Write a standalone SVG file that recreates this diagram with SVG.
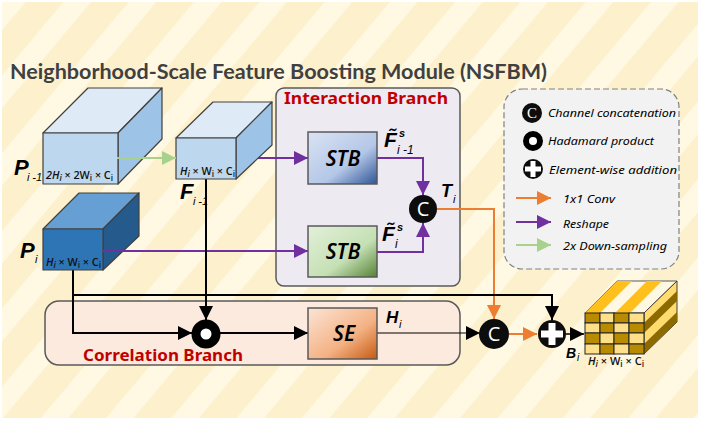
<svg xmlns="http://www.w3.org/2000/svg" width="702" height="423" viewBox="0 0 702 423">
<style>
.t{font-family:"Lato","Noto Sans",sans-serif}
.c{font-family:"Noto Sans","DejaVu Sans",sans-serif;font-style:italic;fill:#000}
.red{font-family:"Noto Sans","DejaVu Sans",sans-serif;font-weight:700;fill:#c00000;font-size:16px}
.m{font-family:"Liberation Sans",sans-serif;font-style:italic;font-weight:700;fill:#000}
.n{font-family:"Liberation Sans",sans-serif;font-style:italic;fill:#000}
.d{font-family:"Open Sans",sans-serif;font-size:10.5px;font-weight:600;fill:#111}
.e{stroke:#404040;stroke-width:1.2;stroke-linejoin:round}
.k{fill:none;stroke:#000;stroke-width:2}
.p{fill:none;stroke:#7030a0;stroke-width:2}
.o{fill:none;stroke:#ed7d31;stroke-width:2}
.g{fill:none;stroke:#a9d18e;stroke-width:2}
.box{stroke:#595959;stroke-width:1.5}
.sb{font-family:"Noto Sans",sans-serif;font-style:italic;font-weight:600;font-size:21px;fill:#000}
</style>
<defs>
<pattern id="st" width="50" height="423" patternUnits="userSpaceOnUse" patternTransform="rotate(40)">
<rect width="50" height="423" fill="#fdf0cd"/><rect width="21" height="423" fill="#fff8e3"/>
</pattern>
<linearGradient id="g1" x1="0" y1="0" x2="1" y2="1"><stop offset="0" stop-color="#dae3f3"/><stop offset=".6" stop-color="#b4c7e7"/><stop offset="1" stop-color="#2f5597"/></linearGradient>
<linearGradient id="g2" x1="0" y1="0" x2="1" y2="1"><stop offset="0" stop-color="#e2f0d9"/><stop offset=".6" stop-color="#c5e0b4"/><stop offset="1" stop-color="#548235"/></linearGradient>
<linearGradient id="g3" x1="0" y1="0" x2="1" y2="1"><stop offset="0" stop-color="#fbe5d6"/><stop offset=".6" stop-color="#f4b183"/><stop offset="1" stop-color="#c55a11"/></linearGradient>
<marker id="ak" markerUnits="userSpaceOnUse" markerWidth="14" markerHeight="14" refX="14" refY="7" orient="auto"><path d="M0 0L14 7L0 14Z" fill="#000"/></marker>
<marker id="ap" markerUnits="userSpaceOnUse" markerWidth="14" markerHeight="14" refX="14" refY="7" orient="auto"><path d="M0 0L14 7L0 14Z" fill="#7030a0"/></marker>
<marker id="ao" markerUnits="userSpaceOnUse" markerWidth="14" markerHeight="14" refX="14" refY="7" orient="auto"><path d="M0 0L14 7L0 14Z" fill="#ed7d31"/></marker>
<marker id="ag" markerUnits="userSpaceOnUse" markerWidth="14" markerHeight="14" refX="14" refY="7" orient="auto"><path d="M0 0L14 7L0 14Z" fill="#a9d18e"/></marker>
</defs>
<rect width="702" height="423" fill="#fff"/>
<rect x="2" y="2" width="696" height="416" fill="url(#st)"/>
<text x="10" y="79" class="t" font-size="21" font-weight="700" fill="#404040" textLength="537" lengthAdjust="spacingAndGlyphs">Neighborhood-Scale Feature Boosting Module (NSFBM)</text>

<g id="interaction-panel"><rect x="276" y="88" width="184" height="198" rx="8" fill="#eeeaf2" stroke="#595959" stroke-width="1.5"/>
<text x="284" y="104" class="red" textLength="164" lengthAdjust="spacingAndGlyphs">Interaction Branch</text></g>
<g id="correlation-panel"><rect x="45" y="301" width="415" height="64" rx="14" fill="#fbeadd" stroke="#595959" stroke-width="1.5"/>
<text x="83" y="361" class="red" textLength="160" lengthAdjust="spacingAndGlyphs">Correlation Branch</text></g>

<g id="connectors">
<path class="p" d="M236 158H308" marker-end="url(#ap)"/>
<path class="p" d="M103 251H308" marker-end="url(#ap)"/>
<path class="p" d="M377 158H423V195" marker-end="url(#ap)"/>
<path class="p" d="M377 252H423V223" marker-end="url(#ap)"/>
<path class="o" d="M437 209H494V319" marker-end="url(#ao)"/>
<path class="k" d="M206 179V320" marker-end="url(#ak)"/>
<path class="k" d="M73 270V333H192" marker-end="url(#ak)"/>
<path class="k" d="M73 295H552V320" marker-end="url(#ak)"/>
<path class="k" d="M220 333H308" marker-end="url(#ak)"/>
<path d="M377 333H480" fill="none" stroke="#000" stroke-width="1" marker-end="url(#ak)"/>
<path class="o" d="M509 334H537" marker-end="url(#ao)"/>
<path d="M566 334H584" fill="none" stroke="#000" stroke-width="1.5" marker-end="url(#ak)"/>
</g>

<g id="cube-p-prev">
<path class="e" d="M43 133L88 88H162L118 133Z" fill="#deebf7"/>
<path class="e" d="M118 133L162 88V139L118 184Z" fill="#9dc3e6"/>
<rect class="e" x="43" y="133" width="75" height="51" fill="#bdd7ee"/>
<text x="46" y="179" class="d" textLength="67" lengthAdjust="spacingAndGlyphs"><tspan font-style="italic">2H<tspan font-size="8" dy="2">i</tspan></tspan><tspan dy="-2"> × 2W</tspan><tspan font-size="8" dy="2">i</tspan><tspan dy="-2"> × C</tspan><tspan font-size="8" dy="2">i</tspan></text>
</g>
<g id="cube-f-prev">
<path class="e" d="M176 138L213 102H272L236 138Z" fill="#deebf7"/>
<path class="e" d="M236 138L272 102V145L236 179Z" fill="#9dc3e6"/>
<rect class="e" x="176" y="138" width="60" height="41" fill="#bdd7ee"/>
<text x="180" y="175" class="d" textLength="55" lengthAdjust="spacingAndGlyphs"><tspan font-style="italic">H<tspan font-size="8" dy="2">i</tspan></tspan><tspan dy="-2"> × W</tspan><tspan font-size="8" dy="2">i</tspan><tspan dy="-2"> × C</tspan><tspan font-size="8" dy="2">i</tspan></text>
</g>
<g id="cube-p">
<path class="e" d="M43 229L79 193H139L103 229Z" fill="#659fd3"/>
<path class="e" d="M103 229L139 193V236L103 270Z" fill="#245a8c"/>
<rect class="e" x="43" y="229" width="60" height="41" fill="#2e75b6"/>
<text x="46" y="266" class="d" textLength="55" lengthAdjust="spacingAndGlyphs"><tspan font-style="italic">H<tspan font-size="8" dy="2">i</tspan></tspan><tspan dy="-2"> × W</tspan><tspan font-size="8" dy="2">i</tspan><tspan dy="-2"> × C</tspan><tspan font-size="8" dy="2">i</tspan></text>
</g>
<path class="g" d="M117 158H176" marker-end="url(#ag)"/>
<path class="p" d="M103 251H135"/>

<text x="14" y="175" class="m" font-size="22">P</text><text x="27" y="181" class="n" font-size="11" textLength="15">i -1</text>
<text x="180" y="199" class="m" font-size="22">F</text><text x="193" y="205" class="n" font-size="11" textLength="15">i -1</text>
<text x="20" y="258" class="m" font-size="22">P</text><text x="35" y="263" class="n" font-size="11">i</text>

<g id="stb-1"><rect class="box" x="308" y="132" width="69" height="52" fill="url(#g1)"/><text x="343" y="166" class="sb" text-anchor="middle">STB</text></g>
<g id="stb-2"><rect class="box" x="308" y="226" width="69" height="51" fill="url(#g2)"/><text x="343" y="259" class="sb" text-anchor="middle">STB</text></g>
<g id="se"><rect class="box" x="308" y="308" width="69" height="51" fill="url(#g3)"/><text x="344" y="341" class="sb" text-anchor="middle">SE</text></g>

<text x="384" y="147" class="m" font-size="21">F̃</text><text x="399" y="137" class="m" font-size="11">s</text><text x="397" y="154" class="n" font-size="12">i -1</text>
<text x="382" y="241" class="m" font-size="21">F̃</text><text x="397" y="231" class="m" font-size="11">s</text><text x="395" y="248" class="n" font-size="12">i</text>
<text x="441" y="197" class="m" font-size="18">T</text><text x="453" y="203" class="n" font-size="11">i</text>
<text x="386" y="323" class="m" font-size="17">H</text><text x="399" y="328" class="n" font-size="11">i</text>
<text x="566" y="358" class="m" font-size="14">B</text><text x="577" y="361" class="n" font-size="10">i</text>

<g id="concat-1"><circle cx="423" cy="209" r="14" fill="#0d0d0d"/><text x="423" y="216" font-family="Open Sans,sans-serif" font-size="20" fill="#fff" text-anchor="middle">C</text></g>
<g id="concat-2"><circle cx="494" cy="334" r="15" fill="#0d0d0d"/><text x="494" y="341" font-family="Open Sans,sans-serif" font-size="20" fill="#fff" text-anchor="middle">C</text></g>
<g id="hadamard"><circle cx="206" cy="334" r="10" fill="#fff" stroke="#000" stroke-width="9"/></g>
<g id="add"><circle cx="552" cy="334" r="14" fill="#0d0d0d"/><path d="M552 323V345M541 334H563" stroke="#fff" stroke-width="7"/></g>

<g id="cube-b">
<path d="M585 313L617 281H677L644 313Z" fill="#fff8e3" stroke="#595959"/>
<path d="M585 313L617 281H632L600 313ZM615 313L647 281H662L630 313Z" fill="#ffc01d"/>
<path d="M644 313L677 281V322L644 354Z" fill="#ffdc70" stroke="#404040"/>
<path d="M644 323L677 291V301L644 333ZM644 344L677 312V322L644 354Z" fill="#8c6a00"/>
<g stroke="#222" stroke-width="1">
<rect x="585" y="313" width="15" height="10" fill="#b98b00"/><rect x="600" y="313" width="14" height="10" fill="#ffe08a"/><rect x="614" y="313" width="15" height="10" fill="#b98b00"/><rect x="629" y="313" width="15" height="10" fill="#ffe08a"/>
<rect x="585" y="323" width="15" height="10" fill="#ffe08a"/><rect x="600" y="323" width="14" height="10" fill="#b98b00"/><rect x="614" y="323" width="15" height="10" fill="#ffe08a"/><rect x="629" y="323" width="15" height="10" fill="#b98b00"/>
<rect x="585" y="333" width="15" height="11" fill="#b98b00"/><rect x="600" y="333" width="14" height="11" fill="#ffe08a"/><rect x="614" y="333" width="15" height="11" fill="#b98b00"/><rect x="629" y="333" width="15" height="11" fill="#ffe08a"/>
<rect x="585" y="344" width="15" height="10" fill="#ffe08a"/><rect x="600" y="344" width="14" height="10" fill="#b98b00"/><rect x="614" y="344" width="15" height="10" fill="#ffe08a"/><rect x="629" y="344" width="15" height="10" fill="#b98b00"/>
</g>
<text x="588" y="365" class="d" textLength="56" lengthAdjust="spacingAndGlyphs"><tspan font-style="italic">H<tspan font-size="8" dy="2">i</tspan></tspan><tspan dy="-2"> × W</tspan><tspan font-size="8" dy="2">i</tspan><tspan dy="-2"> × C</tspan><tspan font-size="8" dy="2">i</tspan></text>
</g>

<g id="legend">
<rect x="504" y="89" width="175" height="180" rx="18" fill="#f2f2f2" stroke="#808080" stroke-width="1.2" stroke-dasharray="6 3"/>
<circle cx="532" cy="113" r="10" fill="#0d0d0d"/><text x="532" y="118" font-family="Liberation Serif,serif" font-size="15" fill="#fff" text-anchor="middle">C</text>
<circle cx="533" cy="141" r="7" fill="#fff" stroke="#000" stroke-width="6"/>
<circle cx="533" cy="169" r="10" fill="#0d0d0d"/><path d="M533 161V177M525 169H541" stroke="#fff" stroke-width="5"/>
<path class="o" d="M516 198H551" marker-end="url(#ao)"/>
<path class="p" d="M516 222H551" marker-end="url(#ap)"/>
<path class="g" d="M516 245H551" marker-end="url(#ag)"/>
<text x="548" y="117" class="c" font-size="11.5" textLength="128" lengthAdjust="spacingAndGlyphs">Channel concatenation</text>
<text x="548" y="145" class="c" font-size="11.5" textLength="106" lengthAdjust="spacingAndGlyphs">Hadamard product</text>
<text x="549" y="174" class="c" font-size="11.5" textLength="128" lengthAdjust="spacingAndGlyphs">Element-wise addition</text>
<text x="563" y="203" class="c" font-size="11.5" textLength="52" lengthAdjust="spacingAndGlyphs">1x1 Conv</text>
<text x="563" y="228" class="c" font-size="11.5" textLength="46" lengthAdjust="spacingAndGlyphs">Reshape</text>
<text x="563" y="250" class="c" font-size="11.5" textLength="104" lengthAdjust="spacingAndGlyphs">2x Down-sampling</text>
</g>
</svg>
